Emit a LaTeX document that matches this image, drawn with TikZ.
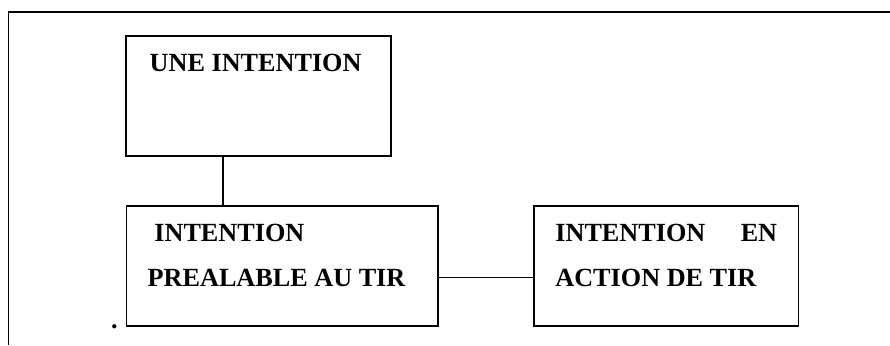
\documentclass[tikz,border=0pt]{standalone}
\usepackage{fontspec}
\setmainfont{Liberation Serif}
\usepackage{tikz}
\usetikzlibrary{fit,calc}
\tikzset{
  frame/.style={draw=black,line width=0.9pt},
  box/.style={draw=black,line width=0.9pt,rectangle,inner sep=0pt},
  link/.style={draw=black,line width=0.8pt},
  lbl/.style={font=\fontsize{13.1}{15}\selectfont\bfseries,anchor=base west,inner sep=0pt},
}

\begin{document}
\begin{tikzpicture}[x=0.5pt,y=-0.5pt]
  \useasboundingbox (0,0) rectangle (890,345);
  \draw[frame] (890,12) -- (8.5,12) -- (8.5,345);

  \node[box,fit={(126,36) (391,156)}] (une) {};
  \node[box,fit={(126.5,206) (438,326)}] (prealable) {};
  \node[box,fit={(534,206) (798.5,326)}] (action) {};

  \node[lbl] (uneTxt) at (149.3,71.7) {UNE INTENTION};
  \node[lbl] (prealableA) at (154,241.7) {INTENTION};
  \node[lbl] (prealableB) at (147.3,286.7) {PREALABLE AU TIR};
  \node[lbl] (actionA) at (555,241.7) {\makebox[110.9pt][l]{INTENTION\hfill EN}};
  \node[lbl] (actionB) at (555,286.7) {ACTION DE TIR};
  \node[lbl] (dot) at (110.6,328.5) {.};

  \coordinate (col) at (222.7,0);
  \coordinate (row) at (0,277.3);
  \draw[link] (une.south -| col) -- (prealable.north -| col);
  \draw[link] (prealable.east |- row) -- (action.west |- row);
\end{tikzpicture}
\end{document}
